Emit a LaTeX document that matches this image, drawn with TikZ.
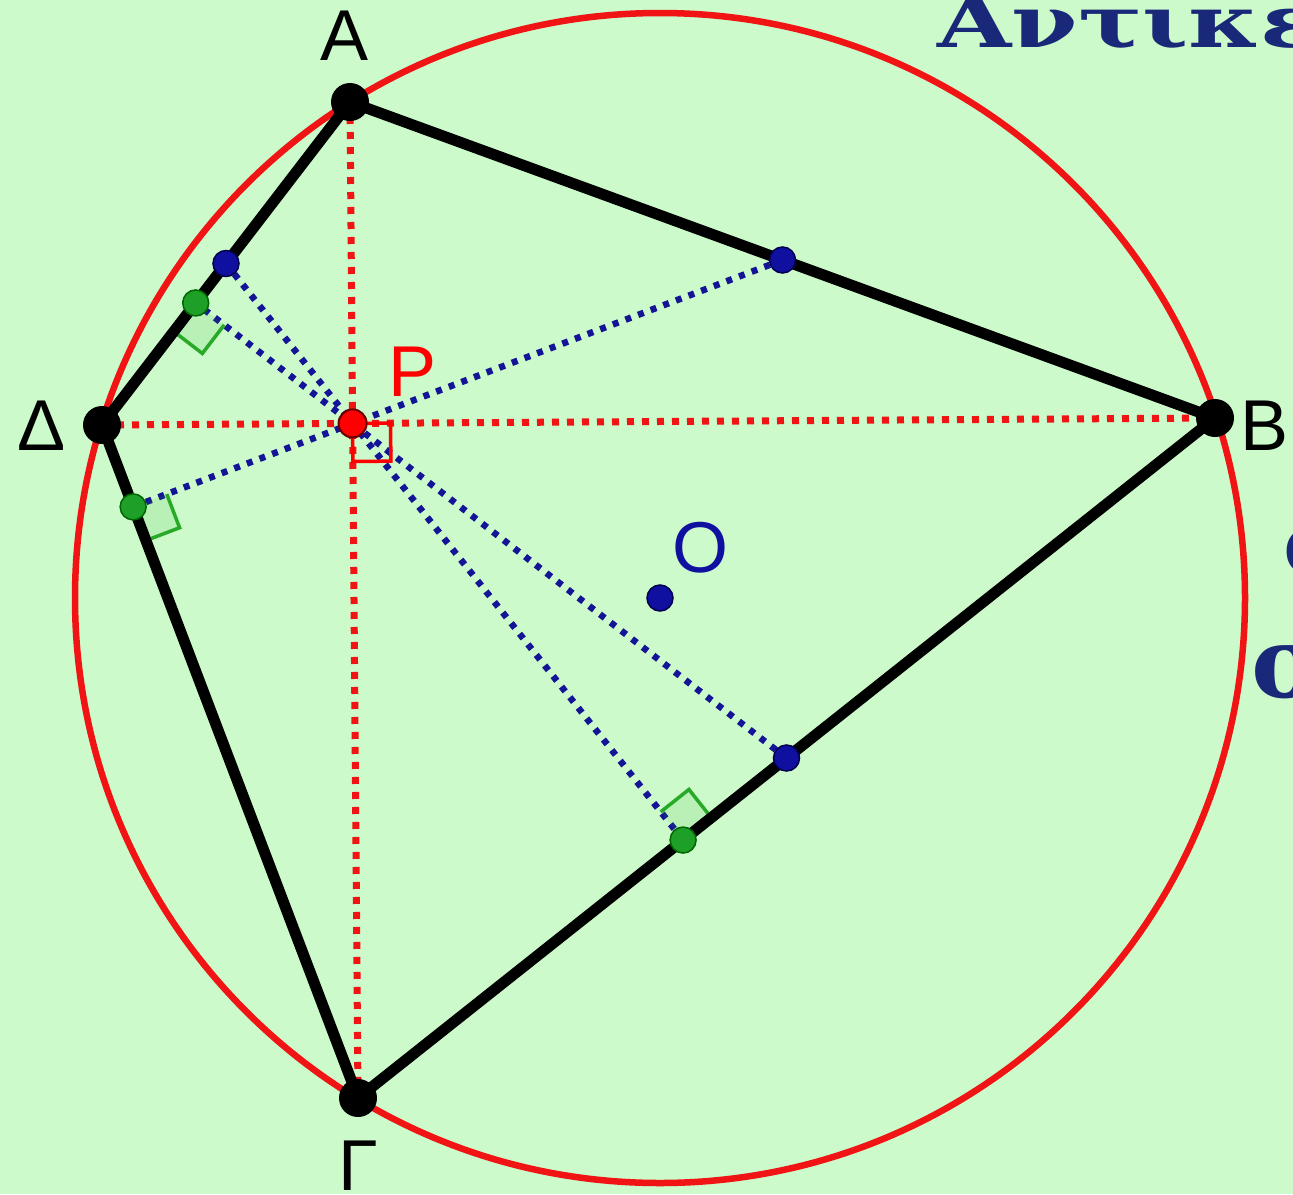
\documentclass[tikz,border=0pt]{standalone}
\usepackage{fontspec}
\setmainfont{Liberation Sans}
\newfontfamily\titlefont{DejaVu Serif}
\usetikzlibrary{calc}
\definecolor{bg}{RGB}{204,250,202}
\definecolor{circred}{RGB}{240,20,20}
\definecolor{dotblue}{RGB}{16,16,160}
\definecolor{lineblue}{RGB}{20,20,150}
\definecolor{dotgreen}{RGB}{30,160,40}
\definecolor{markgreen}{RGB}{40,170,40}
\definecolor{titleblue}{RGB}{25,40,120}
\tikzset{
  side/.style={line width=11pt, black, line cap=round, line join=round},
  reddot/.style={line width=7pt, circred, dash pattern=on 7pt off 8pt},
  bluedot/.style={line width=6.5pt, lineblue, dash pattern=on 6pt off 7.5pt},
  vertex/.style={circle, fill=black, inner sep=0pt, minimum size=38pt},
  bluept/.style={circle, fill=dotblue, draw=black!70!blue, line width=1.5pt, inner sep=0pt, minimum size=26pt},
  greenpt/.style={circle, fill=dotgreen, draw=black!60!green, line width=1.5pt, inner sep=0pt, minimum size=26pt},
  redpt/.style={circle, fill=red, draw=black!60!red, line width=2pt, inner sep=0pt, minimum size=28pt},
  gmark/.style={line width=3.5pt, markgreen},
  rmark/.style={line width=3.5pt, red},
  lbl/.style={font=\fontsize{72}{72}\selectfont, inner sep=0pt},
  ttl/.style={font=\titlefont\bfseries\fontsize{72}{72}\selectfont, text=titleblue, inner sep=0pt}
}
\begin{document}
\begin{tikzpicture}[x=1pt,y=-1pt]
\useasboundingbox (0,0) rectangle (1293,1194);
\clip (0,0) rectangle (1293,1194);
\fill[bg] (0,0) rectangle (1293,1194);

% points
\coordinate (A) at (350,102);
\coordinate (B) at (1215,418);
\coordinate (G) at (358,1098);
\coordinate (D) at (102,425);
\coordinate (O) at (660,598);
\coordinate (P) at (intersection of A--G and D--B);
\coordinate (MAB) at ($(A)!0.5!(B)$);
\coordinate (MAD) at ($(A)!0.5!(D)$);
\coordinate (MGB) at ($(G)!0.5!(B)$);
\coordinate (FAD) at ($(A)!(P)!(D)$);
\coordinate (FDG) at ($(D)!(P)!(G)$);
\coordinate (FGB) at ($(G)!(P)!(B)$);

% title (cut off)
\node[ttl, anchor=base west, xscale=1.33] (title) at (937,47) {Αντικε};
\node[ttl, anchor=base west, font=\titlefont\bfseries\fontsize{88}{88}\selectfont] (t2) at (1283,574) {ο};
\node[ttl, anchor=base west, font=\titlefont\bfseries\fontsize{100}{100}\selectfont] (t3) at (1251,697) {σ};

% circle
\draw[circred, line width=6.5pt] (O) circle[radius=585];

% dotted lines
\draw[reddot] (A) -- (G);
\draw[reddot] (D) -- (B);
\draw[bluedot] (MAB) -- (FDG);
\draw[bluedot] (MAD) -- (FGB);
\draw[bluedot] (MGB) -- (FAD);

% right angle marks
\coordinate (a1) at ($(FAD)!36pt!(D)$);
\coordinate (a2) at ($(FAD)!36pt!(P)$);
\coordinate (a3) at ($(a1)+(a2)-(FAD)$);
\fill[markgreen, opacity=0.12] (FAD) -- (a1) -- (a3) -- (a2) -- cycle;
\draw[gmark] (a1) -- (a3) -- (a2);
\coordinate (b1) at ($(FDG)!36pt!(G)$);
\coordinate (b2) at ($(FDG)!36pt!(P)$);
\coordinate (b3) at ($(b1)+(b2)-(FDG)$);
\fill[markgreen, opacity=0.12] (FDG) -- (b1) -- (b3) -- (b2) -- cycle;
\draw[gmark] (b1) -- (b3) -- (b2);
\coordinate (c1) at ($(FGB)!36pt!(B)$);
\coordinate (c2) at ($(FGB)!36pt!(P)$);
\coordinate (c3) at ($(c1)+(c2)-(FGB)$);
\fill[markgreen, opacity=0.12] (FGB) -- (c1) -- (c3) -- (c2) -- cycle;
\draw[gmark] (c1) -- (c3) -- (c2);
\coordinate (p1) at ($(P)!38pt!(B)$);
\coordinate (p2) at ($(P)!38pt!(G)$);
\coordinate (p3) at ($(p1)+(p2)-(P)$);
\draw[rmark] (P) -- (p1) -- (p3) -- (p2) -- cycle;

% sides
\draw[side] (A) -- (B) -- (G) -- (D) -- cycle;

% points
\node[vertex] (nA) at (A) {};
\node[vertex] (nB) at (B) {};
\node[vertex] (nG) at (G) {};
\node[vertex] (nD) at (D) {};
\node[bluept] (nMAB) at (MAB) {};
\node[bluept] (nMAD) at (MAD) {};
\node[bluept] (nMGB) at (MGB) {};
\node[greenpt] (nFAD) at (FAD) {};
\node[greenpt] (nFDG) at (FDG) {};
\node[greenpt] (nFGB) at (FGB) {};
\node[redpt] (nP) at (P) {};
\node[bluept] (nO) at (O) {};

% labels
\node[lbl, anchor=base] (lA) at (345,60) {A};
\node[lbl, anchor=base west] (lB) at (1240,450) {B};
\node[lbl, anchor=base] (lD) at (42,450) {Δ};
\node[lbl, anchor=base] (lG) at (358,1190) {Γ};
\node[lbl, anchor=base west, text=red] (lP) at (388,396) {P};
\node[lbl, anchor=base west, text=dotblue] (lO) at (672,572) {O};
\end{tikzpicture}
\end{document}
